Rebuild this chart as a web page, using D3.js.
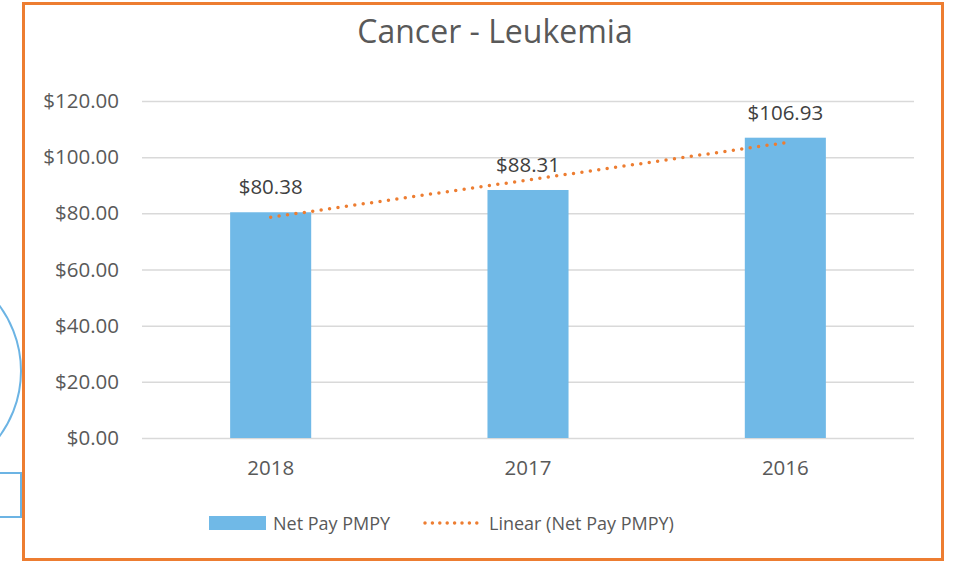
<!DOCTYPE html>
<html>
<head>
<meta charset="utf-8">
<script src="https://cdn.jsdelivr.net/npm/d3@7"></script>
<style>
  body { margin: 0; background: #fff; }
  text { font-family: "Open Sans", "DejaVu Sans", sans-serif; }
</style>
</head>
<body>
<svg id="chart" width="956" height="561"></svg>
<script>
// data
var years = ['2018', '2017', '2016']
var netPay = [80.38, 88.31, 106.93]
var yTicks = [0, 20, 40, 60, 80, 100, 120]

var svg = d3.select('#chart')
var plotL = 142, plotR = 914, plotT = 101, plotB = 438

var x = d3.scaleBand().domain(years).range([plotL, plotR]).padding(0)
var y = d3.scaleLinear().domain([0, 120]).range([plotB, plotT])
var barW = x.bandwidth() * 0.315
var money = function (v) { return '$' + d3.format(',.2f')(v) }

// chart frame
svg.append('rect')
    .attr('x', 23.5).attr('y', 3.5).attr('width', 919).attr('height', 556)
    .attr('fill', '#fff').attr('stroke', '#ED7D31').attr('stroke-width', 3)

// slide bits showing at the left edge
svg.append('circle')
    .attr('cx', -89).attr('cy', 371).attr('r', 110)
    .attr('fill', 'none').attr('stroke', '#6CB4E4').attr('stroke-width', 2)
svg.append('rect')
    .attr('x', -5).attr('y', 473).attr('width', 26).attr('height', 44)
    .attr('fill', '#fff').attr('stroke', '#6CB4E4').attr('stroke-width', 2)

svg.append('text')
    .attr('x', 495).attr('y', 43)
    .attr('text-anchor', 'middle')
    .attr('font-size', 32).attr('fill', '#595959')
    .text('Cancer - Leukemia')

// gridlines + y labels
var yAxis = d3.axisLeft(y).tickValues(yTicks).tickFormat(money)
    .tickSize(-(plotR - plotL)).tickPadding(23)
var gy = svg.append('g').attr('transform', 'translate(' + plotL + ',0)').call(yAxis)
gy.select('.domain').remove()
gy.selectAll('line').attr('stroke', '#D9D9D9').attr('stroke-width', 1.5)
gy.selectAll('text').attr('font-size', 20.5).attr('fill', '#595959')
    .attr('font-family', '"Open Sans", sans-serif')

// x labels
var xAxis = d3.axisBottom(x).tickSize(0).tickPadding(22)
var gx = svg.append('g').attr('transform', 'translate(0,' + plotB + ')').call(xAxis)
gx.select('.domain').remove()
gx.selectAll('text').attr('font-size', 20.5).attr('fill', '#595959')
    .attr('font-family', '"Open Sans", sans-serif')

// bars
svg.selectAll('rect.bar').data(netPay).enter().append('rect')
    .attr('class', 'bar')
    .attr('x', (d, i) => x(years[i]) + (x.bandwidth() - barW) / 2)
    .attr('width', barW)
    .attr('y', d => y(d))
    .attr('height', d => plotB - y(d))
    .attr('fill', '#70B9E7')

// value labels
svg.selectAll('text.val').data(netPay).enter().append('text')
    .attr('class', 'val')
    .attr('x', (d, i) => x(years[i]) + x.bandwidth() / 2)
    .attr('y', d => y(d) - 18)
    .attr('text-anchor', 'middle')
    .attr('font-size', 20.5).attr('fill', '#404040')
    .text(money)

// linear trendline (least squares over category index)
var n = netPay.length
var xs = d3.range(1, n + 1)
var mx = d3.mean(xs), my = d3.mean(netPay)
var slope = d3.sum(xs, (v, i) => (v - mx) * (netPay[i] - my)) / d3.sum(xs, v => (v - mx) * (v - mx))
var icpt = my - slope * mx
var trend = xs.map(v => icpt + slope * v)

svg.append('path')
    .datum(trend)
    .attr('d', d3.line()
        .x((d, i) => x(years[i]) + x.bandwidth() / 2)
        .y(d => y(d)))
    .attr('fill', 'none')
    .attr('stroke', '#ED7D31')
    .attr('stroke-width', 3.5)
    .attr('stroke-linecap', 'round')
    .attr('stroke-dasharray', '0 8.5')

// legend
var lg = svg.append('g')
lg.append('rect').attr('x', 209).attr('y', 516).attr('width', 57).attr('height', 14).attr('fill', '#70B9E7')
lg.append('text').attr('x', 273).attr('y', 530).attr('font-size', 18).attr('fill', '#595959').text('Net Pay PMPY')
lg.append('line').attr('x1', 425).attr('x2', 477).attr('y1', 523).attr('y2', 523)
    .attr('stroke', '#ED7D31').attr('stroke-width', 3.5)
    .attr('stroke-linecap', 'round').attr('stroke-dasharray', '0 7.4')
lg.append('text').attr('x', 489).attr('y', 530).attr('font-size', 18).attr('fill', '#595959').text('Linear (Net Pay PMPY)')
</script>
</body>
</html>
